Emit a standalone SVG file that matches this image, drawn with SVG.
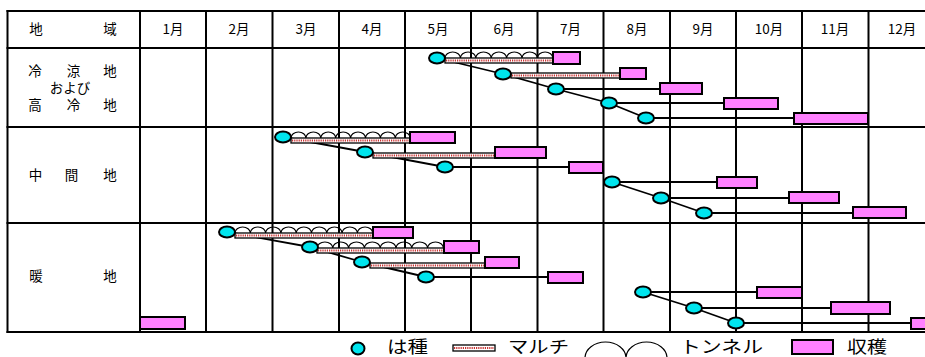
<svg xmlns="http://www.w3.org/2000/svg" width="925" height="357" viewBox="0 0 925 357">
<style>
.g{stroke:#000;stroke-width:2}
.seed{fill:#00e5ee;stroke:#000;stroke-width:2}
.harv{fill:#ff80ff;stroke:#000;stroke-width:2}
.mulch{fill:#fff;stroke:#000;stroke-width:1.3}
.mdot{stroke:#c83030;stroke-width:2.2;stroke-dasharray:1.2 1}
.tun{fill:none;stroke:#000;stroke-width:1.2}
.ln{stroke:#000;stroke-width:1.8;fill:none}
.t{font-family:"Noto Sans CJK JP","Noto Sans CJK SC",sans-serif;font-size:13.5px;text-anchor:middle;fill:#000}
.lg{font-family:"Noto Sans CJK JP","Noto Sans CJK SC",sans-serif;font-size:17px;fill:#000}
</style>
<rect width="925" height="357" fill="#fff"/>
<g id="grid">
<line class="g" x1="6.5" y1="11" x2="925" y2="11"/>
<line class="g" x1="6.5" y1="48" x2="925" y2="48"/>
<line class="g" x1="6.5" y1="127" x2="925" y2="127"/>
<line class="g" x1="6.5" y1="223" x2="925" y2="223"/>
<line class="g" x1="6.5" y1="332" x2="925" y2="332"/>
<line class="g" x1="7.5" y1="10" x2="7.5" y2="333"/>
<line class="g" x1="140" y1="11" x2="140" y2="332"/>
<line class="g" x1="206" y1="11" x2="206" y2="332"/>
<line class="g" x1="272.5" y1="11" x2="272.5" y2="332"/>
<line class="g" x1="339" y1="11" x2="339" y2="332"/>
<line class="g" x1="405" y1="11" x2="405" y2="332"/>
<line class="g" x1="471" y1="11" x2="471" y2="332"/>
<line class="g" x1="537.5" y1="11" x2="537.5" y2="332"/>
<line class="g" x1="603.5" y1="11" x2="603.5" y2="332"/>
<line class="g" x1="670" y1="11" x2="670" y2="332"/>
<line class="g" x1="736" y1="11" x2="736" y2="332"/>
<line class="g" x1="802" y1="11" x2="802" y2="332"/>
<line class="g" x1="868.5" y1="11" x2="868.5" y2="332"/>
</g>
<g id="header">
<text class="t" x="36" y="34">地</text>
<text class="t" x="110" y="34">域</text>
<text class="t" x="173" y="34">1月</text>
<text class="t" x="239" y="34">2月</text>
<text class="t" x="306" y="34">3月</text>
<text class="t" x="372" y="34">4月</text>
<text class="t" x="438" y="34">5月</text>
<text class="t" x="504" y="34">6月</text>
<text class="t" x="570.5" y="34">7月</text>
<text class="t" x="637" y="34">8月</text>
<text class="t" x="703" y="34">9月</text>
<text class="t" x="769" y="34">10月</text>
<text class="t" x="835" y="34">11月</text>
<text class="t" x="902" y="34">12月</text>
</g>
<g id="row-labels">
<text class="t" x="35" y="76">冷</text><text class="t" x="73.5" y="76">涼</text><text class="t" x="110" y="76">地</text>
<text class="t" x="70" y="92.5">および</text>
<text class="t" x="35" y="109.5">高</text><text class="t" x="73.5" y="109.5">冷</text><text class="t" x="110" y="109.5">地</text>
<text class="t" x="35.5" y="180">中</text><text class="t" x="71.5" y="180">間</text><text class="t" x="110" y="180">地</text>
<text class="t" x="36" y="281">暖</text><text class="t" x="110" y="281">地</text>
</g>
<g id="connectors">
<line class="ln" x1="437" y1="58" x2="503" y2="74"/>
<line class="ln" x1="503" y1="74" x2="556" y2="89"/>
<line class="ln" x1="556" y1="89" x2="609" y2="103"/>
<line class="ln" x1="609" y1="103" x2="646" y2="118"/>
<line class="ln" x1="556" y1="89" x2="660" y2="89"/>
<line class="ln" x1="609" y1="103" x2="724" y2="103"/>
<line class="ln" x1="646" y1="118" x2="794" y2="118"/>
<line class="ln" x1="283" y1="137" x2="365" y2="152"/>
<line class="ln" x1="365" y1="152" x2="445" y2="167"/>
<line class="ln" x1="445" y1="167" x2="569" y2="167"/>
<line class="ln" x1="612" y1="182" x2="661" y2="198"/>
<line class="ln" x1="661" y1="198" x2="704" y2="213"/>
<line class="ln" x1="612" y1="182" x2="717" y2="182"/>
<line class="ln" x1="661" y1="198" x2="789" y2="198"/>
<line class="ln" x1="704" y1="213" x2="853" y2="213"/>
<line class="ln" x1="227" y1="232" x2="310" y2="247"/>
<line class="ln" x1="310" y1="247" x2="362" y2="262"/>
<line class="ln" x1="362" y1="262" x2="426" y2="277"/>
<line class="ln" x1="426" y1="277" x2="548" y2="277"/>
<line class="ln" x1="643" y1="292" x2="694" y2="308"/>
<line class="ln" x1="694" y1="308" x2="736" y2="323"/>
<line class="ln" x1="643" y1="292" x2="757" y2="292"/>
<line class="ln" x1="694" y1="308" x2="831" y2="308"/>
<line class="ln" x1="736" y1="323" x2="911" y2="323"/>
</g>
<g id="row1">
<rect class="mulch" x="445" y="58" width="108" height="5"/><line class="mdot" x1="446" y1="60.5" x2="552" y2="60.5"/>
<path class="tun" d="M445,58 a7.7,6 0 0 1 15.4,0 a7.7,6 0 0 1 15.4,0 a7.7,6 0 0 1 15.4,0 a7.7,6 0 0 1 15.4,0 a7.7,6 0 0 1 15.4,0 a7.7,6 0 0 1 15.4,0 a7.7,6 0 0 1 15.4,0"/>
<rect class="harv" x="553" y="52" width="27" height="12"/>
<ellipse class="seed" cx="437" cy="58" rx="8" ry="5.5"/>
<rect class="mulch" x="511" y="73" width="109" height="5"/><line class="mdot" x1="512" y1="75.5" x2="619" y2="75.5"/>
<rect class="harv" x="620" y="68" width="26" height="11"/>
<ellipse class="seed" cx="503" cy="74" rx="8" ry="5.5"/>
<rect class="harv" x="660" y="83" width="42" height="11"/>
<ellipse class="seed" cx="556" cy="89" rx="8" ry="5.5"/>
<rect class="harv" x="724" y="98" width="54" height="11"/>
<ellipse class="seed" cx="609" cy="103" rx="8" ry="5.5"/>
<rect class="harv" x="794" y="113" width="74" height="11"/>
<ellipse class="seed" cx="646" cy="118" rx="8" ry="5.5"/>
</g>
<g id="row2">
<rect class="mulch" x="291" y="138" width="119" height="5"/><line class="mdot" x1="292" y1="140.5" x2="409" y2="140.5"/>
<path class="tun" d="M291,138 a7.45,6 0 0 1 14.9,0 a7.45,6 0 0 1 14.9,0 a7.45,6 0 0 1 14.9,0 a7.45,6 0 0 1 14.9,0 a7.45,6 0 0 1 14.9,0 a7.45,6 0 0 1 14.9,0 a7.45,6 0 0 1 14.9,0 a7.45,6 0 0 1 14.9,0"/>
<rect class="harv" x="410" y="132" width="45" height="11"/>
<ellipse class="seed" cx="283" cy="137" rx="8" ry="5.5"/>
<rect class="mulch" x="373" y="153" width="122" height="5"/><line class="mdot" x1="374" y1="155.5" x2="494" y2="155.5"/>
<rect class="harv" x="495" y="147" width="51" height="11"/>
<ellipse class="seed" cx="365" cy="152" rx="8" ry="5.5"/>
<rect class="harv" x="569" y="162" width="34" height="11"/>
<ellipse class="seed" cx="445" cy="167" rx="8" ry="5.5"/>
<rect class="harv" x="717" y="177" width="40" height="11"/>
<ellipse class="seed" cx="612" cy="182" rx="8" ry="5.5"/>
<rect class="harv" x="789" y="192" width="50" height="11"/>
<ellipse class="seed" cx="661" cy="198" rx="8" ry="5.5"/>
<rect class="harv" x="853" y="207" width="53" height="11"/>
<ellipse class="seed" cx="704" cy="213" rx="8" ry="5.5"/>
</g>
<g id="row3">
<rect class="mulch" x="235" y="233" width="138" height="5"/><line class="mdot" x1="236" y1="235.5" x2="372" y2="235.5"/>
<path class="tun" d="M235,233 a7.65,6 0 0 1 15.3,0 a7.65,6 0 0 1 15.3,0 a7.65,6 0 0 1 15.3,0 a7.65,6 0 0 1 15.3,0 a7.65,6 0 0 1 15.3,0 a7.65,6 0 0 1 15.3,0 a7.65,6 0 0 1 15.3,0 a7.65,6 0 0 1 15.3,0 a7.65,6 0 0 1 15.3,0"/>
<rect class="harv" x="373" y="227" width="40" height="11"/>
<ellipse class="seed" cx="227" cy="232" rx="8" ry="5.5"/>
<rect class="mulch" x="317" y="248" width="127" height="5"/><line class="mdot" x1="318" y1="250.5" x2="443" y2="250.5"/>
<path class="tun" d="M317,248 a7.9,6 0 0 1 15.8,0 a7.9,6 0 0 1 15.8,0 a7.9,6 0 0 1 15.8,0 a7.9,6 0 0 1 15.8,0 a7.9,6 0 0 1 15.8,0 a7.9,6 0 0 1 15.8,0 a7.9,6 0 0 1 15.8,0 a7.9,6 0 0 1 15.8,0"/>
<rect class="harv" x="444" y="241" width="35" height="12"/>
<ellipse class="seed" cx="310" cy="247" rx="8" ry="5.5"/>
<rect class="mulch" x="370" y="263" width="115" height="5"/><line class="mdot" x1="371" y1="265.5" x2="484" y2="265.5"/>
<rect class="harv" x="485" y="257" width="34" height="11"/>
<ellipse class="seed" cx="362" cy="262" rx="8" ry="5.5"/>
<rect class="harv" x="548" y="272" width="35" height="11"/>
<ellipse class="seed" cx="426" cy="277" rx="8" ry="5.5"/>
<rect class="harv" x="757" y="287" width="45" height="11"/>
<ellipse class="seed" cx="643" cy="292" rx="8" ry="5.5"/>
<rect class="harv" x="831" y="302" width="59" height="12"/>
<ellipse class="seed" cx="694" cy="308" rx="8" ry="5.5"/>
<rect class="harv" x="911" y="318" width="24" height="11"/>
<ellipse class="seed" cx="736" cy="323" rx="8" ry="5.5"/>
<rect class="harv" x="140" y="317" width="45" height="12"/>
</g>
<g id="legend">
<ellipse class="seed" cx="358" cy="348.5" rx="6.5" ry="6"/>
<text class="lg" x="387" y="353" textLength="41" lengthAdjust="spacingAndGlyphs">は種</text>
<rect class="mulch" x="453" y="345" width="42" height="6"/><line class="mdot" x1="454" y1="348" x2="494" y2="348"/>
<text class="lg" x="508" y="353" textLength="61" lengthAdjust="spacingAndGlyphs">マルチ</text>
<path class="tun" d="M585,358 a20.5,16 0 0 1 41,0 a20.5,16 0 0 1 41,0"/>
<text class="lg" x="680" y="353" textLength="83" lengthAdjust="spacingAndGlyphs">トンネル</text>
<rect class="harv" x="792" y="340" width="41" height="14"/>
<text class="lg" x="847" y="353" textLength="40" lengthAdjust="spacingAndGlyphs">収穫</text>
</g>
</svg>
